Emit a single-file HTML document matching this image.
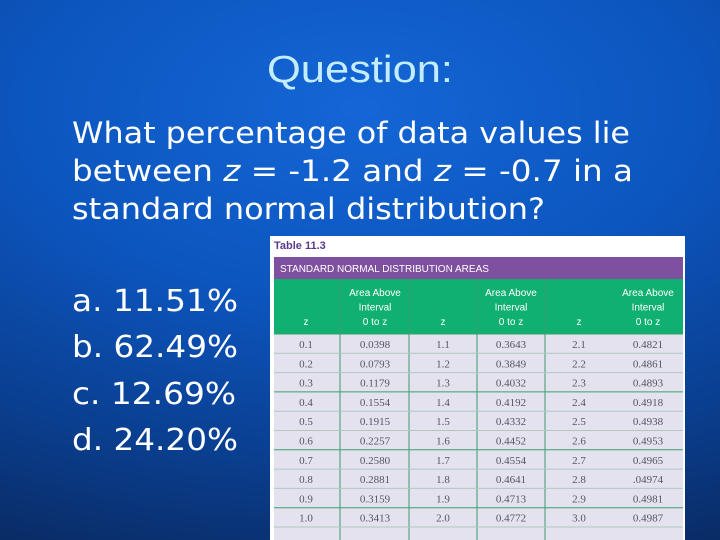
<!DOCTYPE html>
<html><head><meta charset="utf-8"><style>
html,body{margin:0;padding:0;width:720px;height:540px;overflow:hidden}
body{background:radial-gradient(ellipse 120% 90% at 50% 20%,#1466d6 0%,#0c55be 40%,#0a3d8c 75%,#0a2a62 100%)}
svg{position:absolute;left:0;top:0}
</style></head><body>
<svg width="720" height="540">
<text x="360" y="82" text-anchor="middle" font-family="Liberation Sans, sans-serif" font-size="38" fill="#c4ecff" textLength="186" lengthAdjust="spacingAndGlyphs">Question:</text>
<g font-family="DejaVu Sans, sans-serif" font-size="29" fill="#ffffff">
<text x="72" y="143" textLength="558" lengthAdjust="spacingAndGlyphs">What percentage of data values lie</text>
<text x="72" y="181" textLength="561" lengthAdjust="spacingAndGlyphs">between <tspan font-style="italic">z</tspan> = -1.2 and <tspan font-style="italic">z</tspan> = -0.7 in a</text>
<text x="72" y="219" textLength="473" lengthAdjust="spacingAndGlyphs">standard normal distribution?</text>
</g>
<g font-family="DejaVu Sans, sans-serif" font-size="30" fill="#ffffff">
<text x="72" y="311" textLength="166" lengthAdjust="spacingAndGlyphs">a. 11.51%</text>
<text x="72" y="357" textLength="166" lengthAdjust="spacingAndGlyphs">b. 62.49%</text>
<text x="72" y="404" textLength="164" lengthAdjust="spacingAndGlyphs">c. 12.69%</text>
<text x="72" y="450" textLength="166" lengthAdjust="spacingAndGlyphs">d. 24.20%</text>
</g>
<g id="tbl"></g>
</svg>
<script>
const zA=["0.1","0.2","0.3","0.4","0.5","0.6","0.7","0.8","0.9","1.0"];
const aA=["0.0398","0.0793","0.1179","0.1554","0.1915","0.2257","0.2580","0.2881","0.3159","0.3413"];
const zB=["1.1","1.2","1.3","1.4","1.5","1.6","1.7","1.8","1.9","2.0"];
const aB=["0.3643","0.3849","0.4032","0.4192","0.4332","0.4452","0.4554","0.4641","0.4713","0.4772"];
const zC=["2.1","2.2","2.3","2.4","2.5","2.6","2.7","2.8","2.9","3.0"];
const aC=["0.4821","0.4861","0.4893","0.4918","0.4938","0.4953","0.4965",".04974","0.4981","0.4987"];
const NS="http://www.w3.org/2000/svg",g=document.getElementById('tbl');
function mk(t,at,txt){const e=document.createElementNS(NS,t);for(const k in at)e.setAttribute(k,at[k]);if(txt!=null)e.textContent=txt;g.appendChild(e);return e;}
let e;
e=mk('rect',{x:270,y:236,width:415,height:304,fill:'#ffffff'});


e=mk('text',{x:274,y:249,'font-family':'Liberation Sans, sans-serif','font-size':11,'font-weight':'bold',fill:'#5a3a8a'},'Table 11.3');


e=mk('rect',{x:274,y:257,width:409,height:22,fill:'#8050a0'});


e=mk('text',{x:280,y:272,'font-family':'Liberation Sans, sans-serif','font-size':10,fill:'#ffffff'},'STANDARD NORMAL DISTRIBUTION AREAS');


e=mk('rect',{x:274,y:279,width:409,height:55,fill:'#10b070'});


e=mk('rect',{x:274,y:334,width:409,height:206,fill:'#e4e2ee'});


const colX=[274,340,409,477,545,683];
const rowH=19.3,row0=334;
for(let i=1;i<5;i++){e=mk('line',{x1:colX[i],x2:colX[i],y1:279,y2:540,stroke:'#3a9a70','stroke-width':1});

}
for(let r=0;r<=10;r++){const y=row0+r*rowH;e=mk('line',{x1:274,x2:683,y1:y,y2:y,stroke:r%3==0?'#3aa070':'#b0c8c0','stroke-width':1});

}
const hdrCx=[306,375,443,511,579,648];
[0,2,4].forEach(i=>{e=mk('text',{x:hdrCx[i],y:325,'text-anchor':'middle','font-family':'Liberation Sans, sans-serif','font-size':10,fill:'#ffffff'},'z');

});
[1,3,5].forEach(i=>{['Area Above','Interval','0 to z'].forEach((s,k)=>{e=mk('text',{x:hdrCx[i],y:296+k*14.5,'text-anchor':'middle','font-family':'Liberation Sans, sans-serif','font-size':10,fill:'#ffffff'},s);

});});
const cols=[zA,aA,zB,aB,zC,aC];
cols.forEach((arr,c)=>arr.forEach((v,r)=>{e=mk('text',{x:hdrCx[c],y:row0+r*rowH+14,'text-anchor':'middle','font-family':'Liberation Serif, serif','font-size':11,fill:'#555560'},v);

}));
</script>
</body></html>
